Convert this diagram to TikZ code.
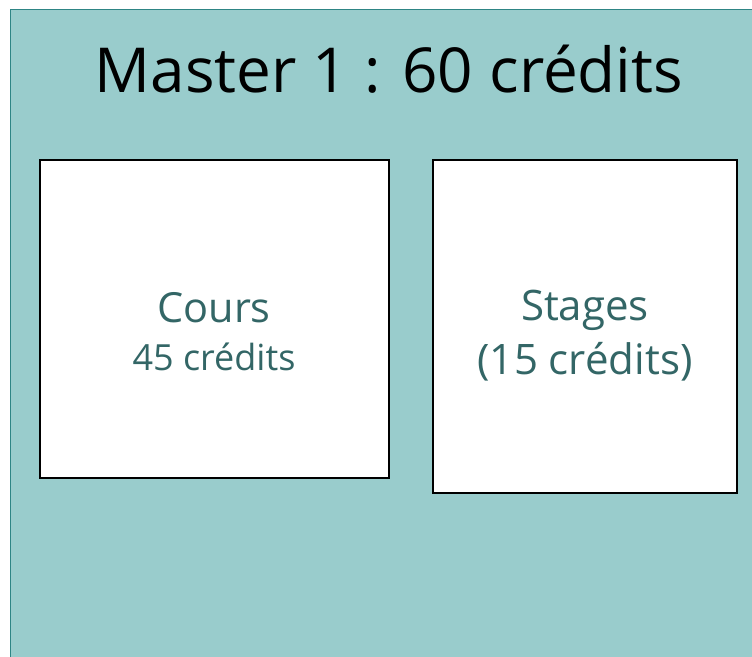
\documentclass[tikz,border=0pt]{standalone}
\usepackage{fontspec}
\setmainfont{Open Sans}
\usepackage{tikz}
\usetikzlibrary{positioning}

\definecolor{fondbleu}{HTML}{99CCCC}
\definecolor{bordbleu}{HTML}{2E8585}
\definecolor{textebleu}{HTML}{336666}

\begin{document}
\begin{tikzpicture}[x=1pt, y=-1pt, every node/.style={inner sep=0pt},
  bloc/.style={draw=black, fill=white, line width=1.6pt},
  etiquette/.style={text=textebleu, align=center}]

\useasboundingbox (0,0) rectangle (752,656);

% --- fond ---
\draw[fill=fondbleu, draw=bordbleu, line width=1pt] (10,9) rectangle (770,680);

% --- titre ---
\node (titre) at (389,69) {\fontsize{62}{70}\selectfont Master 1 : 60 crédits};

% --- bloc 1 ---
\node[bloc, minimum width=349pt, minimum height=318pt] (cours) at (214.5,319) {};
\node[etiquette] (coursnom) at (214,308) {\fontsize{41.5}{48}\selectfont Cours};
\node[etiquette] (courscr) at (214,357) {\fontsize{36}{40}\selectfont 45 crédits};

% --- bloc 2 ---
\node[bloc, minimum width=304pt, minimum height=333pt] (stages) at (585,326.5) {};
\node[etiquette] (stagesnom) at (585,310) {\fontsize{42}{48}\selectfont Stages};
\node[etiquette] (stagescr) at (585,362) {\fontsize{42}{46}\selectfont (15 crédits)};

\end{tikzpicture}
\end{document}
